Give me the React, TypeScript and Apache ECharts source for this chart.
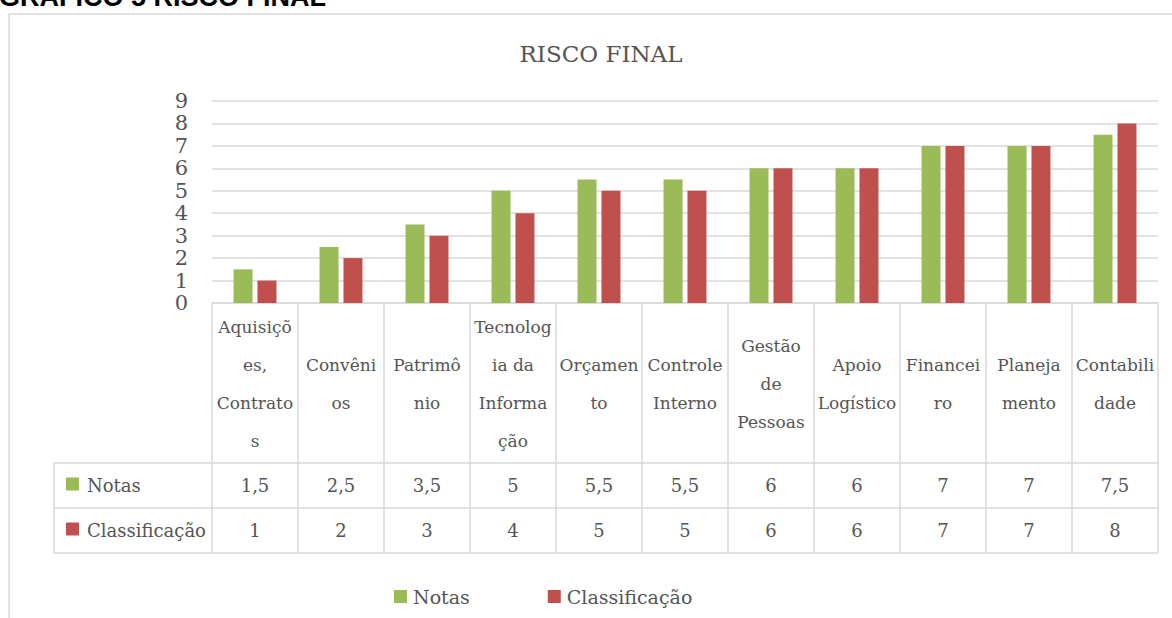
import React, { useEffect, useRef } from "react";
import * as echarts from "echarts";

const categories = [
  "Aquisiçõ\nes,\nContrato\ns",
  "Convêni\nos",
  "Patrimô\nnio",
  "Tecnolog\nia da\nInforma\nção",
  "Orçamen\nto",
  "Controle\nInterno",
  "Gestão\nde\nPessoas",
  "Apoio\nLogístico",
  "Financei\nro",
  "Planeja\nmento",
  "Contabili\ndade",
];
const seriesNames = ["Notas", "Classificação"];
const notas = [1.5, 2.5, 3.5, 5, 5.5, 5.5, 6, 6, 7, 7, 7.5];
const classificacao = [1, 2, 3, 4, 5, 5, 6, 6, 7, 7, 8];
const colors = ["#9BBB59", "#C0504D"];

const FONT = "DejaVu Serif";
const TXT = "#555555";
const LINE = "#d9d9d9";

const fmt = (v: number) => String(v).replace(".", ",");

export default function App() {
  const ref = useRef<HTMLDivElement>(null);
  useEffect(() => {
    if (!ref.current) return;
    const chart = echarts.init(ref.current, null, { renderer: "svg" });
    const gridTop = 101;
    const axisY = 303;
    const headerH = 160;
    const rowH = 45;
    const tableLeft = 54;
    chart.setOption({
      animation: false,
      title: {
        text: "RISCO FINAL",
        left: 596,
        top: 37,
        textAlign: "center",
        textStyle: { fontFamily: FONT, fontSize: 23, fontWeight: "normal", color: TXT },
      },
      legend: {
        left: 389,
        top: 582,
        icon: "rect",
        itemWidth: 13,
        itemHeight: 13,
        itemGap: 78,
        textStyle: { fontFamily: FONT, fontSize: 19, color: TXT, padding: [0, 0, 0, 1] },
        data: seriesNames,
      },
      grid: { left: 212, right: 14, top: gridTop, bottom: 618 - axisY },
      xAxis: {
        type: "category",
        data: categories,
        axisLine: { lineStyle: { color: LINE, width: 1.5 } },
        axisTick: {
          show: true,
          interval: 0,
          alignWithLabel: false,
          length: headerH + 2 * rowH,
          lineStyle: { color: LINE, width: 1.5 },
        },
        axisLabel: {
          interval: 0,
          margin: 81,
          verticalAlign: "middle",
          lineHeight: 38,
          fontFamily: FONT,
          fontSize: 17,
          color: TXT,
        },
      },
      yAxis: {
        type: "value",
        min: 0,
        max: 9,
        interval: 1,
        axisLine: { show: false },
        axisTick: { show: false },
        axisLabel: { fontFamily: FONT, fontSize: 21, color: TXT, margin: 24 },
        splitLine: { lineStyle: { color: LINE, width: 1.5 } },
      },
      series: [
        {
          name: seriesNames[0],
          type: "bar",
          data: notas,
          barWidth: 19,
          barGap: "26%",
          itemStyle: { color: colors[0] },
        },
        {
          name: seriesNames[1],
          type: "bar",
          data: classificacao,
          barWidth: 19,
          itemStyle: { color: colors[1] },
        },
      ],
    });

    const xs = categories.map((_, i) => chart.convertToPixel({ xAxisIndex: 0 }, i) as number);
    const half = (xs[1] - xs[0]) / 2;
    const right = xs[xs.length - 1] + half;
    const graphics: any[] = [];
    graphics.push({
      type: "rect",
      shape: { x: 9, y: 14, width: 1300, height: 800 },
      style: { fill: "none", stroke: LINE, lineWidth: 1.5 },
      silent: true,
    });
    graphics.push({
      type: "text",
      x: -1,
      y: -3,
      style: {
        text: "GRÁFICO 5 RISCO FINAL",
        fontFamily: "Liberation Sans",
        fontWeight: "bold",
        fontSize: 27,
        fill: "#000",
        verticalAlign: "middle",
      },
    });
    const rowTops = [axisY + headerH, axisY + headerH + rowH, axisY + headerH + 2 * rowH];
    rowTops.forEach((y) => {
      graphics.push({
        type: "line",
        shape: { x1: tableLeft, y1: y, x2: right, y2: y },
        style: { stroke: LINE, lineWidth: 1.5 },
      });
    });
    graphics.push({
      type: "line",
      shape: { x1: tableLeft, y1: rowTops[0], x2: tableLeft, y2: rowTops[2] },
      style: { stroke: LINE, lineWidth: 1.5 },
    });
    const rows = [notas, classificacao];
    rows.forEach((vals, r) => {
      const cy = rowTops[r] + rowH / 2;
      graphics.push({
        type: "rect",
        shape: { x: 66, y: cy - 8, width: 13, height: 13 },
        style: { fill: colors[r] },
      });
      graphics.push({
        type: "text",
        x: 87,
        y: cy,
        style: {
          text: seriesNames[r],
          fontFamily: FONT,
          fontSize: 18,
          fill: TXT,
          verticalAlign: "middle",
          align: "left",
        },
      });
      vals.forEach((v, i) => {
        graphics.push({
          type: "text",
          x: xs[i],
          y: cy,
          style: {
            text: fmt(v),
            fontFamily: FONT,
            fontSize: 18,
            fill: TXT,
            verticalAlign: "middle",
            align: "center",
          },
        });
      });
    });
    chart.setOption({ graphic: graphics });
    return () => chart.dispose();
  }, []);
  return (
    <div
      ref={ref}
      style={{ position: "absolute", left: 0, top: 0, width: 1172, height: 618, background: "#fff" }}
    />
  );
}
